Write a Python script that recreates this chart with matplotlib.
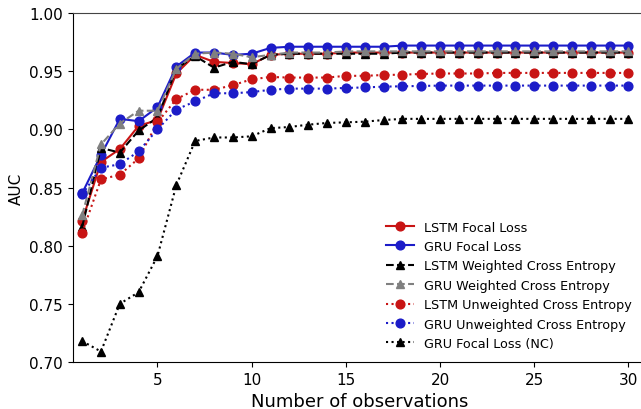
import matplotlib
matplotlib.use('Agg')
import matplotlib.pyplot as plt

obs = list(range(1, 31))

lstm_focal = [0.821, 0.872, 0.883, 0.903, 0.908, 0.948, 0.964, 0.958, 0.957, 0.956,
              0.964, 0.965, 0.965, 0.965, 0.966, 0.966, 0.966, 0.966, 0.966, 0.966,
              0.966, 0.966, 0.966, 0.966, 0.966, 0.966, 0.966, 0.966, 0.966, 0.966]
gru_focal = [0.845, 0.878, 0.909, 0.907, 0.919, 0.954, 0.966, 0.966, 0.964, 0.965,
             0.970, 0.971, 0.971, 0.971, 0.971, 0.971, 0.971, 0.972, 0.972, 0.972,
             0.972, 0.972, 0.972, 0.972, 0.972, 0.972, 0.972, 0.972, 0.972, 0.972]
lstm_wce = [0.816, 0.884, 0.880, 0.899, 0.910, 0.952, 0.963, 0.953, 0.958, 0.956,
            0.964, 0.965, 0.965, 0.965, 0.965, 0.965, 0.965, 0.966, 0.966, 0.966,
            0.966, 0.966, 0.966, 0.966, 0.966, 0.966, 0.966, 0.966, 0.966, 0.966]
gru_wce = [0.826, 0.887, 0.905, 0.916, 0.916, 0.952, 0.965, 0.966, 0.965, 0.962,
           0.964, 0.966, 0.966, 0.966, 0.967, 0.967, 0.967, 0.967, 0.967, 0.967,
           0.967, 0.967, 0.967, 0.967, 0.967, 0.967, 0.967, 0.967, 0.967, 0.967]
lstm_uce = [0.811, 0.857, 0.861, 0.875, 0.906, 0.926, 0.934, 0.934, 0.938, 0.943,
            0.945, 0.9445, 0.9445, 0.9445, 0.946, 0.946, 0.9467, 0.947, 0.9476, 0.948,
            0.948, 0.948, 0.9485, 0.9485, 0.9485, 0.9485, 0.9485, 0.9485, 0.9485, 0.9485]
gru_uce = [0.844, 0.867, 0.870, 0.881, 0.900, 0.917, 0.924, 0.931, 0.931, 0.932,
           0.934, 0.935, 0.935, 0.935, 0.9356, 0.936, 0.9367, 0.937, 0.9373, 0.9376,
           0.9376, 0.9376, 0.9376, 0.9376, 0.9376, 0.9376, 0.9376, 0.9376, 0.9376, 0.9376]
gru_focal_nc = [0.718, 0.709, 0.750, 0.760, 0.791, 0.852, 0.890, 0.893, 0.893, 0.894,
                0.901, 0.902, 0.904, 0.9055, 0.906, 0.9066, 0.908, 0.909, 0.909, 0.909,
                0.909, 0.909, 0.909, 0.909, 0.909, 0.909, 0.909, 0.909, 0.909, 0.909]

red = '#c81414'
blue = '#1c1cc8'

fig = plt.figure(figsize=(6.41, 4.10), dpi=100)
ax = fig.add_axes([72.7 / 641, 47 / 410, 574.6 / 641, 349 / 410])

ms = 6.3
ax.plot(obs, lstm_focal, '-', marker='o', color=red, lw=1.5, ms=ms, label='LSTM Focal Loss')
ax.plot(obs, gru_focal, '-', marker='o', color=blue, lw=1.5, ms=ms, label='GRU Focal Loss')
ax.plot(obs, lstm_wce, '--', marker='^', color='black', lw=1.5, ms=ms, label='LSTM Weighted Cross Entropy')
ax.plot(obs, gru_wce, '--', marker='^', color='gray', lw=1.5, ms=ms, label='GRU Weighted Cross Entropy')
ax.plot(obs, lstm_uce, ':', marker='o', color=red, lw=1.5, ms=ms, label='LSTM Unweighted Cross Entropy')
ax.plot(obs, gru_uce, ':', marker='o', color=blue, lw=1.5, ms=ms, label='GRU Unweighted Cross Entropy')
ax.plot(obs, gru_focal_nc, ':', marker='^', color='black', lw=1.5, ms=ms, label='GRU Focal Loss (NC)')

ax.set_xlim(0.5, 31)
ax.set_ylim(0.70, 1.00)
ax.set_xticks([5, 10, 15, 20, 25, 30])
ax.set_yticks([0.70, 0.75, 0.80, 0.85, 0.90, 0.95, 1.00])
ax.tick_params(labelsize=11)
ax.spines['right'].set_visible(False)
ax.spines['top'].set_color('#444444')

ax.set_xlabel('Number of observations', fontsize=13)
ax.set_ylabel('AUC', fontsize=11)

ax.legend(loc='lower right', bbox_to_anchor=(0.982, 0.02), borderaxespad=0,
          frameon=False, fontsize=9.2, handlelength=2.2, labelspacing=0.5)

fig.savefig('out.png', dpi=100)
